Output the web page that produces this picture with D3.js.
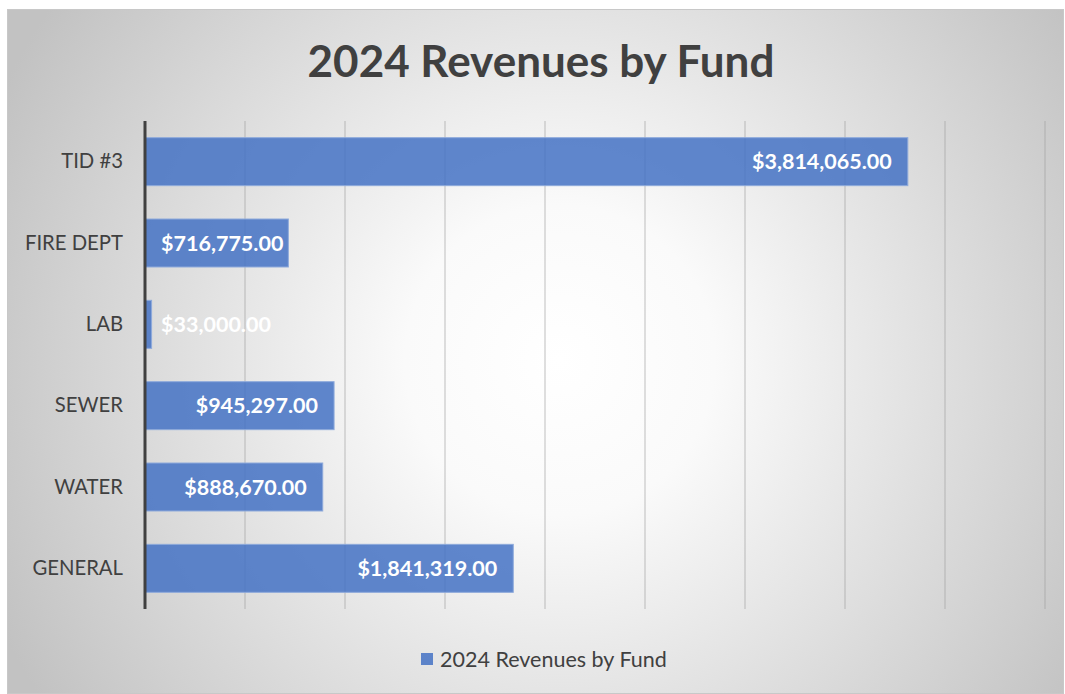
<!DOCTYPE html>
<html><head><meta charset="utf-8">
<script src="https://cdn.jsdelivr.net/npm/d3@7"></script>
<style>body{margin:0;background:#fff;}svg{display:block;}</style>
</head><body>
<svg id="c" width="1065" height="694"></svg>
<script>
const categories = ["TID #3","FIRE DEPT","LAB","SEWER","WATER","GENERAL"];
const values = [3814065, 716775, 33000, 945297, 888670, 1841319];
const xTicks = [0,500000,1000000,1500000,2000000,2500000,3000000,3500000,4000000,4500000];
const seriesName = "2024 Revenues by Fund";
const title = "2024 Revenues by Fund";

const svg = d3.select("#c");
const defs = svg.append("defs");
const g = defs.append("radialGradient").attr("id","bg")
  .attr("gradientUnits","userSpaceOnUse").attr("cx",560).attr("cy",360).attr("r",620);
g.append("stop").attr("offset","0%").attr("stop-color","#ffffff");
g.append("stop").attr("offset","25%").attr("stop-color","#fafafa");
g.append("stop").attr("offset","100%").attr("stop-color","#c2c2c2");

svg.append("rect").attr("x",7.5).attr("y",9.5).attr("width",1056).attr("height",684)
  .attr("fill","url(#bg)").attr("stroke","#c8c8c8").attr("stroke-width",1);

const font = "Lato, 'Open Sans', sans-serif";

svg.append("text").attr("x",541).attr("y",77).attr("text-anchor","middle")
  .attr("font-family",font).attr("font-weight","bold").attr("font-size",44)
  .attr("fill","#404040").text(title);

const x = d3.scaleLinear().domain([0,4500000]).range([145,1045]);
const y = d3.scaleBand().domain(categories).range([121,609]).paddingInner(0.41).paddingOuter(0.205);

// gridlines
svg.append("g").selectAll("line").data(xTicks.slice(1)).join("line")
  .attr("x1",d=>x(d)).attr("x2",d=>x(d)).attr("y1",121).attr("y2",609)
  .attr("stroke","#a0a0a0").attr("stroke-opacity",0.45).attr("stroke-width",1.5);

// bars
svg.append("g").selectAll("rect").data(categories).join("rect")
  .attr("x",x(0)).attr("y",d=>y(d)).attr("width",(d,i)=>x(values[i])-x(0)).attr("height",y.bandwidth())
  .attr("fill","#4472c4").attr("fill-opacity",0.85)
  .attr("stroke","#8eaadb").attr("stroke-width",1);

// axis line
svg.append("line").attr("x1",x(0)).attr("x2",x(0)).attr("y1",121).attr("y2",609)
  .attr("stroke","#404040").attr("stroke-width",3);

// category labels
const yAxis = d3.axisLeft(y).tickSize(0).tickPadding(0);
const ya = svg.append("g").attr("transform","translate(123,0)").call(yAxis);
ya.select(".domain").remove();
ya.selectAll("text").attr("font-family",font).attr("font-size",20.3).attr("fill","#404040");

// value labels
const fmt = d3.format("$,.2f");
const lbl = svg.append("g").selectAll("text").data(categories).join("text")
  .attr("y",d=>y(d)+y.bandwidth()/2).attr("dy","0.36em")
  .attr("font-family",font).attr("font-weight","bold").attr("font-size",21.5)
  .attr("fill","#ffffff").text((d,i)=>fmt(values[i]));
lbl.each(function(d,i){
  const w = this.getComputedTextLength();
  let xs = x(values[i]) - 16 - w;
  if (xs < x(0)+16) xs = x(0)+16;
  d3.select(this).attr("x",xs);
});

// legend
svg.append("rect").attr("x",421).attr("y",653).attr("width",12).attr("height",12)
  .attr("fill","#4472c4").attr("fill-opacity",0.85);
svg.append("text").attr("x",440).attr("y",667).attr("font-family",font).attr("font-size",21.5)
  .attr("fill","#404040").text(seriesName);
</script>
</body></html>
